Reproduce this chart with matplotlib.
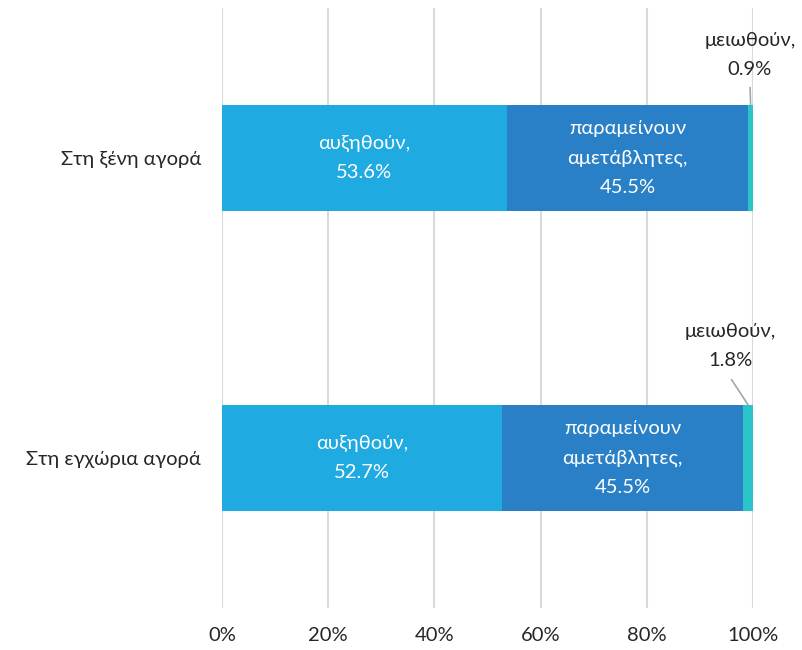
import matplotlib
matplotlib.use("Agg")
import matplotlib.pyplot as plt
import numpy as np

plt.rcParams['font.family'] = ['Lato', 'Open Sans', 'DejaVu Sans']

categories = ["Στη ξένη αγορά", "Στη εγχώρια αγορά"]
series_names = ["αυξηθούν", "παραμείνουν\nαμετάβλητες", "μειωθούν"]
increase = [53.6, 52.7]
unchanged = [45.5, 45.5]
decrease = [0.9, 1.8]
xticks = [0, 20, 40, 60, 80, 100]
xtick_labels = ["0%", "20%", "40%", "60%", "80%", "100%"]

colors = ["#1FAAE2", "#2A80C7", "#2BC5C9"]
grid_color = "#D9D9D9"
FS = 14.5
LS = 1.88

fig = plt.figure(figsize=(8.03, 6.5), dpi=100)
ax = fig.add_axes([222/803, 1-608/650, (753-222)/803, 600/650])

y = np.arange(len(categories))
h = 0.353
series = [increase, unchanged, decrease]
left = np.zeros(len(categories))
for vals, c in zip(series, colors):
    ax.barh(y, vals, left=left, height=h, color=c, zorder=3)
    left = left + np.array(vals)

# labels inside bars
for i in range(len(categories)):
    c0 = increase[i] / 2
    ax.text(c0, y[i], f"{series_names[0]},\n{increase[i]:.1f}%", ha='center', va='center',
            color='white', fontsize=FS, linespacing=LS, zorder=4)
    c1 = increase[i] + unchanged[i] / 2
    ax.text(c1, y[i], f"{series_names[1]},\n{unchanged[i]:.1f}%", ha='center', va='center',
            color='white', fontsize=FS, linespacing=LS, zorder=4)

# outside labels for small segments with leader lines
text_dx = [-0.15, -3.4]      # offset of text centre from segment centre (data units)
text_dy = [-0.343, -0.373]   # text centre relative to category
line_top = [-0.237, -0.263]
line_dx = [-0.1, -3.2]
for i in range(len(categories)):
    seg_c = increase[i] + unchanged[i] + decrease[i] / 2
    ax.text(seg_c + text_dx[i], y[i] + text_dy[i], f"{series_names[2]},\n{decrease[i]:.1f}%",
            ha='center', va='center', color='#262626', fontsize=FS, linespacing=LS, zorder=4)
    ax.plot([seg_c + line_dx[i], seg_c], [y[i] + line_top[i], y[i] - h / 2],
            color='#A6A6A6', lw=1.2, zorder=4, solid_capstyle='butt')

ax.set_xlim(0, 100)
ax.set_ylim(1.5, -0.5)
ax.set_xticks(xticks)
ax.set_xticklabels(xtick_labels, fontsize=FS, color='#262626')
ax.set_yticks(y)
ax.set_yticklabels(categories, fontsize=FS, color='#262626')
ax.tick_params(axis='both', length=0)
ax.tick_params(axis='x', pad=14)
ax.tick_params(axis='y', pad=15)
ax.grid(axis='x', color=grid_color, lw=1.5, zorder=0)
for s in ax.spines.values():
    s.set_visible(False)

fig.savefig("out.png", dpi=100)
